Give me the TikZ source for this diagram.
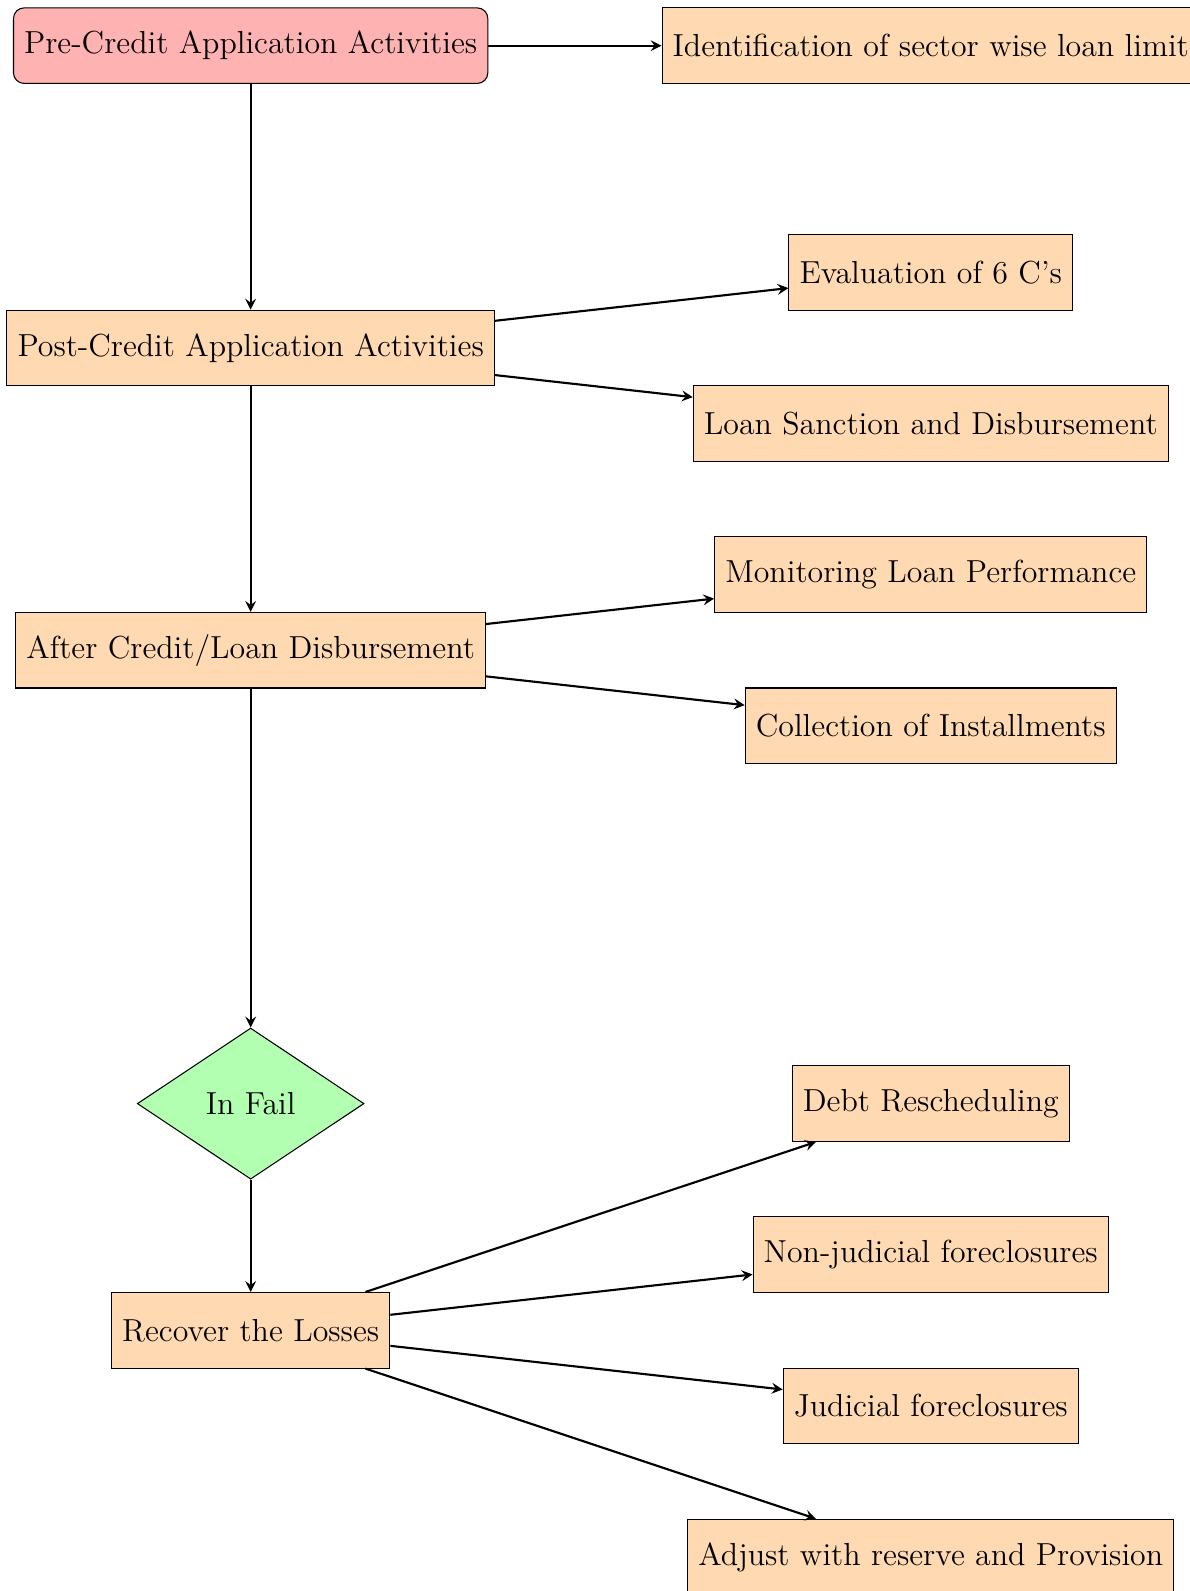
\documentclass[tikz,border=0pt]{standalone}
\usetikzlibrary{shapes.geometric,arrows}
\begin{document}
\begin{tikzpicture}[
    startbox/.style={rectangle, rounded corners, draw=black, fill=red!30, minimum height=1cm, inner sep=4pt, font=\large},
    procbox/.style={rectangle, draw=black, fill=orange!30, minimum height=1cm, inner sep=4pt, font=\large},
    decbox/.style={diamond, draw=black, fill=green!30, minimum width=3cm, minimum height=2cm, inner sep=0pt, font=\large},
    arrow/.style={thick, ->, >=stealth}]
  \useasboundingbox (-3.317,0.604) rectangle (12.42,-20.45);
  \node (1) [startbox] {Pre-Credit Application Activities};
  \node (2) [procbox, right of=1, node distance=9cm] {Identification of sector wise loan limit};
  \node (3) [procbox, below of=1, node distance=4cm] {Post-Credit Application Activities};
  \node (4) [procbox, right of=3, node distance=9cm, yshift=1cm] {Evaluation of 6 C's};
  \node (5) [procbox, right of=3, node distance=9cm, yshift=-1cm] {Loan Sanction and Disbursement};
  \node (6) [procbox, below of=3, node distance=4cm] {After Credit/Loan Disbursement};
  \node (7) [procbox, right of=6, node distance=9cm, yshift=1cm] {Monitoring Loan Performance};
  \node (8) [procbox, right of=6, node distance=9cm, yshift=-1cm] {Collection of Installments};
  \node (9) [decbox, below of=6, node distance=6cm] {In Fail};
  \node (10) [procbox, below of=9, node distance=3cm] {Recover the Losses};
  \node (11) [procbox, right of=10, node distance=9cm, yshift=3cm] {Debt Rescheduling};
  \node (12) [procbox, right of=10, node distance=9cm, yshift=1cm] {Non-judicial foreclosures};
  \node (13) [procbox, right of=10, node distance=9cm, yshift=-1cm] {Judicial foreclosures};
  \node (14) [procbox, right of=10, node distance=9cm, yshift=-3cm] {Adjust with reserve and Provision};
  \path[arrow] (1) edge (2)
               (1) edge (3)
               (3) edge (4)
               (3) edge (5)
               (3) edge (6)
               (6) edge (7)
               (6) edge (8)
               (6) edge (9)
               (9) edge (10)
               (10) edge (11)
               (10) edge (12)
               (10) edge (13)
               (10) edge (14)
               ;
\end{tikzpicture}
\end{document}
